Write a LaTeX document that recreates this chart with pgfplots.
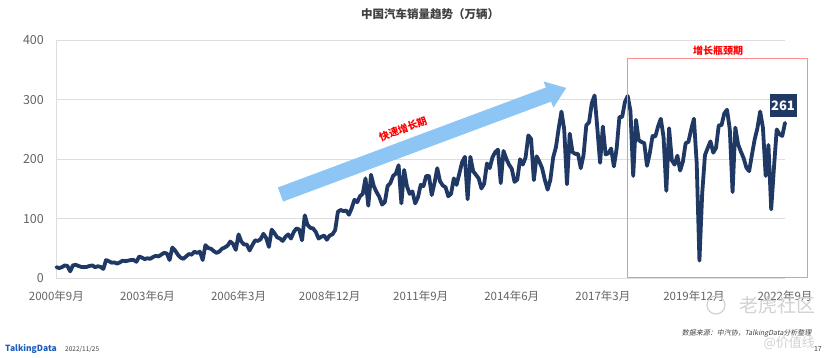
\documentclass[border=0pt]{standalone}
\usepackage{fontspec}
\setmainfont{Noto Sans CJK SC}
\newfontfamily\cjkit[FakeSlant=0.2]{Noto Sans CJK SC}
\usepackage{pgfplots}
\usepackage{pgfplotstable}
\pgfplotsset{compat=1.18}
\definecolor{navy}{RGB}{31,56,100}
\definecolor{arrowblue}{RGB}{141,197,244}
\definecolor{tickgray}{RGB}{100,100,100}
\definecolor{gridgray}{RGB}{222,222,222}
\definecolor{tdblue}{RGB}{28,95,190}
\definecolor{titlegray}{RGB}{64,64,64}

% monthly sales, 2000-09 ... 2022-09 (10k units)
\pgfplotstableread[row sep=\\]{
v\\
19\\17.5\\19\\22\\
21\\12\\22\\23\\21\\19.5\\19\\19.5\\21\\22\\19\\20.5\\
19.5\\16\\31\\29\\26.5\\27\\25\\27\\30\\29\\30\\31\\
31\\28\\37\\35\\32.5\\34\\33\\36\\38\\37\\40\\43\\
42\\31\\52\\47\\40\\35\\33\\37\\41\\40\\45\\43\\
45\\31\\56\\51\\50\\46\\43\\45\\50\\52\\55\\62\\
58\\48\\74\\62\\57\\57\\47\\56\\64\\63\\66\\75\\
68\\53\\82\\76\\69\\67\\63\\70\\74\\67\\78\\84\\
82\\64\\106\\90\\85\\84\\78\\67\\70\\72\\65\\72\\
74\\81\\112\\115\\113\\114\\107\\118\\132\\128\\138\\142\\
168\\122\\174\\155\\145\\137\\124\\128\\155\\160\\172\\176\\
190\\126\\182\\155\\142\\146\\126\\136\\157\\155\\172\\172\\
140\\160\\185\\163\\156\\153\\138\\142\\168\\157\\176\\195\\
204\\133\\204\\180\\174\\168\\151\\159\\193\\185\\203\\212\\
216\\160\\214\\201\\191\\184\\162\\166\\200\\191\\203\\240\\
234\\165\\205\\196\\185\\165\\149\\166\\203\\220\\252\\280\\
250\\158\\243\\212\\209\\209\\185\\207\\257\\262\\294\\307\\
252\\194\\255\\208\\210\\218\\188\\218\\271\\271\\296\\306\\
281\\172\\266\\232\\229\\227\\189\\210\\239\\238\\255\\268\\
237\\147\\252\\198\\191\\206\\181\\196\\227\\229\\250\\268\\
194\\30\\143\\207\\219\\230\\211\\219\\257\\257\\277\\283\\
250\\145\\253\\225\\213\\202\\186\\180\\207\\233\\252\\280\\
253\\172\\224\\116\\186\\250\\242\\239\\261\\
}\sales

\begin{document}
\begin{tikzpicture}[x=1pt,y=1pt]
\useasboundingbox (0,0) rectangle (830,357);
\fill[white] (0,0) rectangle (830,357);

% title
\node[font=\bfseries\fontsize{11.5}{13}\selectfont, text=titlegray] at (430,343) {中国汽车销量趋势（万辆）};

\begin{axis}[
  at={(56.4pt,78.5pt)}, anchor=south west, scale only axis,
  width=728.6pt, height=238.5pt,
  xmin=0, xmax=264, ymin=0, ymax=400,
  axis x line*=bottom, axis y line*=left,
  axis line style={gridgray, line width=0.8pt, -},
  ymajorgrids, grid style={gridgray, line width=0.8pt},
  major tick length=0pt,
  ytick={0,100,200,300,400},
  xtick={0,33,66,99,132,165,198,231,264},
  xticklabels={2000年9月,2003年6月,2006年3月,2008年12月,2011年9月,2014年6月,2017年3月,2019年12月,2022年9月},
  /pgf/number format/assume math mode=true,
  yticklabel style={font=\fontsize{12.5}{14}\selectfont, text=tickgray, xshift=-9pt},
  xticklabel style={font=\fontsize{11.5}{13}\selectfont, text=tickgray, yshift=-9pt},
  clip=false,
]
\addplot[navy, line width=3.8pt, line join=round, line cap=round] table[x expr=\coordindex, y=v]{\sales};
\node[fill=navy, text=white, font=\bfseries\fontsize{13}{15}\selectfont, inner sep=0pt, minimum height=23pt, minimum width=27pt, xshift=-2pt, yshift=17pt] at (axis cs:264,261) {261};
\end{axis}

% growth arrow
\begin{scope}[shift={(280.5,162.5)}, rotate=20.45]
\fill[arrowblue] (0,-7.5) -- (286,-7.5) -- (286,-14) -- (305,0) -- (286,14) -- (286,7.5) -- (0,7.5) -- cycle;
\end{scope}
\node[rotate=20.45, text=red, font=\bfseries\fontsize{10}{12}\selectfont] at (403,228) {快速增长期};

% bottleneck box
\draw[color=red!45, line width=1pt] (627.5,79.5) rectangle (807,298);
\node[text=red, font=\bfseries\fontsize{10}{12}\selectfont] at (718,306.5) {增长瓶颈期};

% footer
\node[anchor=east, text=titlegray, font=\cjkit\fontsize{7}{8}\selectfont] at (815,24) {数据来源：中汽协，TalkingData分析整理};
\node[anchor=west, text=tdblue, font=\bfseries\fontsize{8.5}{10}\selectfont, inner sep=0pt] at (5,8) {TalkingData};
\node[anchor=west, text=titlegray, font=\fontsize{6.5}{8}\selectfont, inner sep=0pt] at (65,8) {2022/11/25};
\node[anchor=east, text=titlegray, font=\fontsize{7}{8}\selectfont, inner sep=0pt] at (822,8) {17};

% watermark
\node[anchor=west, text=gray!35, font=\fontsize{19}{21}\selectfont, inner sep=0pt] at (739,52) {老虎社区};
\draw[gray!35, line width=1.2pt] (716,52) circle (9);
\node[anchor=east, text=gray!35, font=\fontsize{13}{15}\selectfont, inner sep=0pt] at (815,14) {@价值线};
\end{tikzpicture}
\end{document}
